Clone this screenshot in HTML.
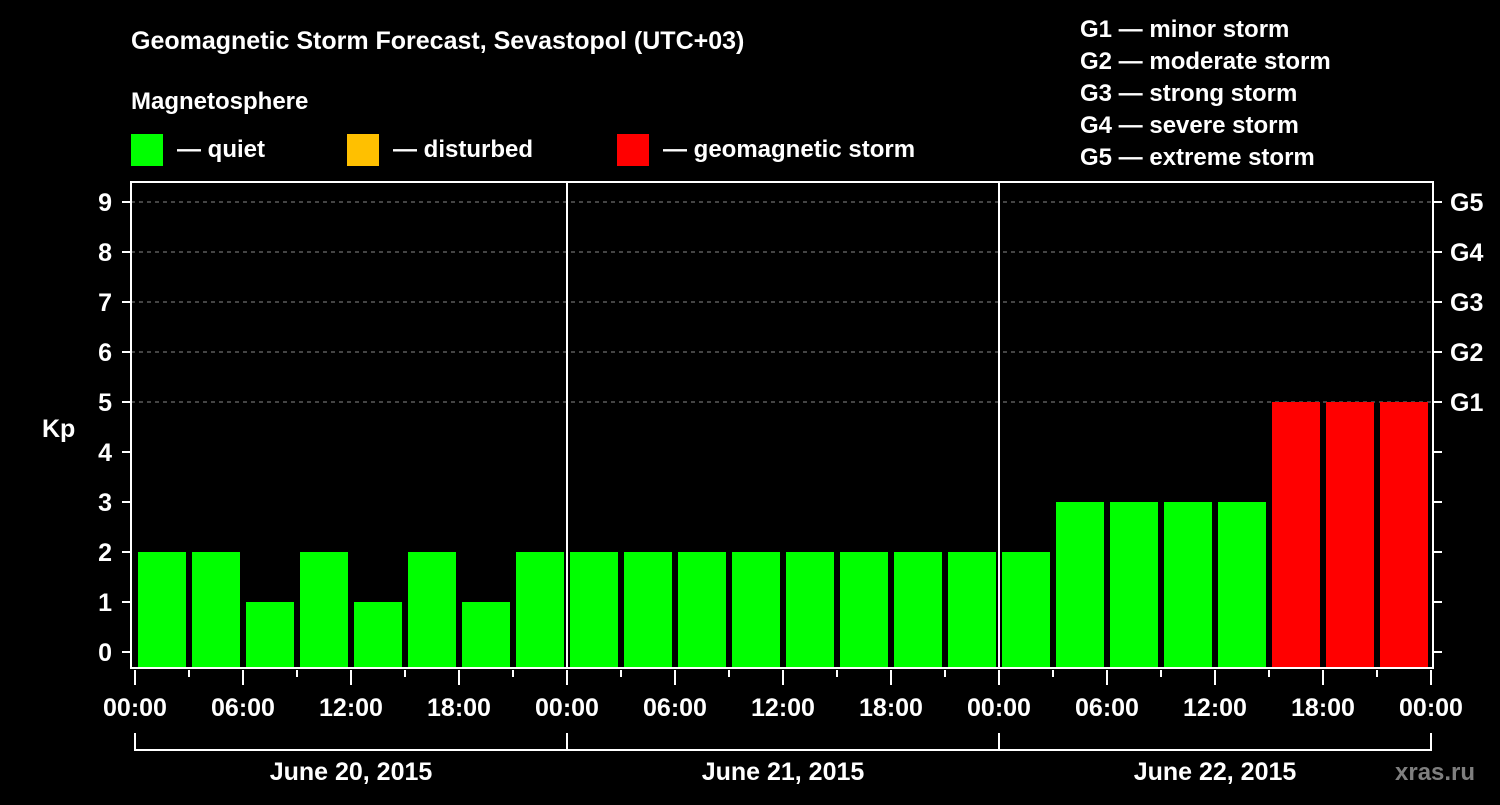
<!DOCTYPE html>
<html><head><meta charset="utf-8"><style>
body{margin:0;background:#000;width:1500px;height:800px;overflow:hidden;font-family:"Liberation Sans",sans-serif}
svg text{font-family:"Liberation Sans",sans-serif;font-weight:bold;fill:#fff}
</style></head><body>
<svg width="1500" height="800" id="c">
<text x="131" y="49" font-size="25">Geomagnetic Storm Forecast, Sevastopol (UTC+03)</text>
<text x="131" y="109" font-size="24">Magnetosphere</text>
<rect x="131" y="134" width="32" height="32" fill="#00ff00"/>
<text x="177" y="157" font-size="24">— quiet</text>
<rect x="347" y="134" width="32" height="32" fill="#ffc000"/>
<text x="393" y="157" font-size="24">— disturbed</text>
<rect x="617" y="134" width="32" height="32" fill="#ff0000"/>
<text x="663" y="157" font-size="24">— geomagnetic storm</text>
<g font-size="24">
<text x="1080" y="37">G1 — minor storm</text>
<text x="1080" y="69">G2 — moderate storm</text>
<text x="1080" y="101">G3 — strong storm</text>
<text x="1080" y="133">G4 — severe storm</text>
<text x="1080" y="165">G5 — extreme storm</text>
</g>
<text x="42" y="437" font-size="25">Kp</text>
<text x="1395" y="780" font-size="24" fill="#888" style="fill:#7f7f7f">xras.ru</text>
<g id="plot"></g>
</svg>
<script>
const kpValues=[2,2,1,2,1,2,1,2, 2,2,2,2,2,2,2,2, 2,3,3,3,3,5,5,5];
const dayLabels=["June 20, 2015","June 21, 2015","June 22, 2015"];
const hourLabels=["00:00","06:00","12:00","18:00"];
const gLabels=["G1","G2","G3","G4","G5"];
const NS="http://www.w3.org/2000/svg";
const g=document.getElementById('plot');
const X0=135,SLOT=54,L=131,R=1433,T=182,B=668;
const y=v=>652-50*v, x=i=>X0+SLOT*i;
function mk(t,a,p){const e=document.createElementNS(NS,t);for(const k in a)e.setAttribute(k,a[k]);(p||g).appendChild(e);return e;}
for(let v=5;v<=9;v++){const e=mk('line',{x1:L,x2:R,y1:y(v),y2:y(v),stroke:'#888','stroke-dasharray':'4,4','stroke-width':1});

}
kpValues.forEach((v,i)=>{const c=v>=5?'#ff0000':(v>=4?'#ffc000':'#00ff00');
const b=mk('rect',{x:x(i)+3,y:y(v),width:48,height:B-y(v),fill:c});

});
const fr=mk('rect',{x:L,y:T,width:R-L,height:B-T,fill:'none',stroke:'#fff','stroke-width':2});


for(let d=1;d<dayLabels.length;d++){const e=mk('line',{x1:x(8*d),x2:x(8*d),y1:T,y2:B,stroke:'#fff','stroke-width':2});

}
for(let v=0;v<=9;v++){
const t=mk('line',{x1:122,x2:L,y1:y(v),y2:y(v),stroke:'#fff','stroke-width':2});


const tx=mk('text',{x:112,y:y(v)+9,'font-size':25,'text-anchor':'end'});tx.textContent=v;


const t2=mk('line',{x1:R,x2:1442,y1:y(v),y2:y(v),stroke:'#fff','stroke-width':2});


if(v>=5){const gt=mk('text',{x:1450,y:y(v)+9,'font-size':25});gt.textContent=gLabels[v-5];

}}
for(let i=0;i<=kpValues.length;i++){const maj=i%2==0;
const t=mk('line',{x1:x(i),x2:x(i),y1:B+2,y2:maj?B+17:B+9,stroke:'#fff','stroke-width':2});


if(maj){const tx=mk('text',{x:x(i),y:716,'font-size':25,'text-anchor':'middle'});tx.textContent=hourLabels[(i/2)%4];

}}
const br=mk('path',{d:`M${x(0)},733V750H${x(24)}V733`,stroke:'#fff','stroke-width':2,fill:'none'});


dayLabels.forEach((d,k)=>{
if(k>0){const l=mk('line',{x1:x(8*k),x2:x(8*k),y1:733,y2:750,stroke:'#fff','stroke-width':2});

}
const t=mk('text',{x:x(8*k+4),y:780,'font-size':25,'text-anchor':'middle'});t.textContent=d;

});
</script>
</body></html>
